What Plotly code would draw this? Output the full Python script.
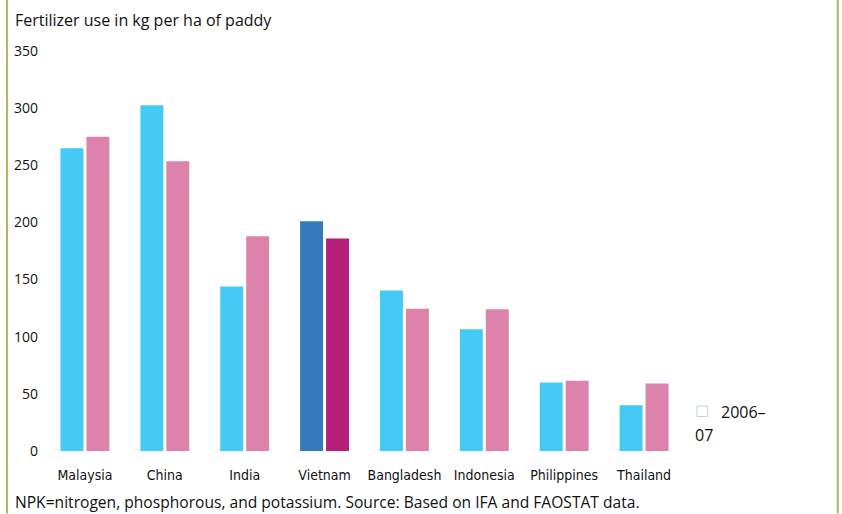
import plotly.graph_objects as go

countries = ["Malaysia", "China", "India", "Vietnam", "Bangladesh", "Indonesia", "Philippines", "Thailand"]
earlier = [265, 302.5, 144, 201, 140.5, 106.5, 60, 40]
recent = [275, 253.5, 188, 186, 124.5, 124, 61.5, 59]
y_ticks = [0, 50, 100, 150, 200, 250, 300, 350]
legend_line1 = "2006–"
legend_line2 = "07"
title_text = "Fertilizer use in kg per ha of paddy"
note_text = "NPK=nitrogen, phosphorous, and potassium. Source: Based on IFA and FAOSTAT data."

BLUE, PINK = "#45C9F5", "#DD82AA"
HL_BLUE, HL_PINK = "#367ABE", "#B51F77"
colors1 = [HL_BLUE if c == "Vietnam" else BLUE for c in countries]
colors2 = [HL_PINK if c == "Vietnam" else PINK for c in countries]

FONT = "Open Sans, Liberation Sans, sans-serif"
TICKFONT = "Liberation Sans Narrow, DejaVu Sans Condensed, Open Sans, sans-serif"

W, H = 842, 514
L, R, T, B = 44.5, 157.5, 51, 62.5
PW, PH = W - L - R, H - T - B


def px(x):
    return (x - L) / PW


def py(y):
    return (H - B - y) / PH


fig = go.Figure()
fig.add_trace(go.Bar(x=countries, y=earlier, marker=dict(color=colors1, line=dict(width=0)), showlegend=False))
fig.add_trace(go.Bar(x=countries, y=recent, marker=dict(color=colors2, line=dict(width=0)), showlegend=False))

fig.update_layout(
    width=W, height=H,
    margin=dict(l=L, r=R, t=T, b=B),
    paper_bgcolor="white", plot_bgcolor="white",
    barmode="group", bargap=0.35, bargroupgap=0.115,
    xaxis=dict(showgrid=False, showline=False, ticks="", tickfont=dict(family=TICKFONT, size=14, color="#111"),
               ticklabelstandoff=14),
    yaxis=dict(range=[0, 350], tickvals=y_ticks, showgrid=False, showline=False, zeroline=False, ticks="",
               tickfont=dict(family=FONT, size=14, color="#111"), ticklabelstandoff=6),
    font=dict(family=FONT, color="#111"),
)

fig.add_annotation(text=title_text, xref="paper", yref="paper", x=px(12), y=py(20),
                   xanchor="left", yanchor="middle", showarrow=False, font=dict(size=16, family=FONT, color="#111"))
fig.add_annotation(text=note_text, xref="paper", yref="paper", x=px(12), y=py(503),
                   xanchor="left", yanchor="middle", showarrow=False, font=dict(size=15.6, family=FONT, color="#111"))
fig.add_annotation(text=legend_line1, xref="paper", yref="paper", x=px(720), y=py(412), xanchor="left",
                   yanchor="middle", showarrow=False, font=dict(size=16, family=FONT, color="#111"))
fig.add_annotation(text=legend_line2, xref="paper", yref="paper", x=px(694), y=py(435), xanchor="left",
                   yanchor="middle", showarrow=False, font=dict(size=16, family=FONT, color="#111"))
fig.add_shape(type="rect", xref="paper", yref="paper", x0=px(697.5), x1=px(708), y0=py(417), y1=py(406.5),
              line=dict(color="#BFD3EA", width=1), fillcolor="white")
# olive side borders
for xp in [6.5, 838.5]:
    fig.add_shape(type="line", xref="paper", yref="paper",
                  x0=px(xp), x1=px(xp), y0=py(H), y1=py(0),
                  line=dict(color="#AEB467", width=2))

fig.write_html("out.html", config={"displayModeBar": False},
               post_script="document.body.style.margin='0px';document.body.style.padding='0px';")
